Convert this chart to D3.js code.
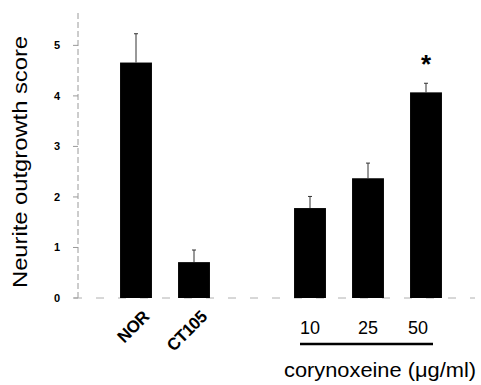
<!DOCTYPE html>
<html>
<head>
<meta charset="utf-8">
<script src="https://cdn.jsdelivr.net/npm/d3@7"></script>
<style>
  body { margin: 0; background: #fff; }
  svg { display: block; font-family: Arial, "Liberation Sans", sans-serif; }
  .axis-line { stroke: #9a9a9a; stroke-width: 1; stroke-dasharray: 6,3; }
  .bar { fill: #000; }
  .err { stroke: #333; stroke-width: 1; }
</style>
</head>
<body>
<div id="chart"></div>
<script>
const categories = ['NOR', 'CT105', 'gap', '10', '25', '50']
const rotatedLabels = ['NOR', 'CT105']
const doseLabels = ['10', '25', '50']
const means = [4.66, 0.71, null, 1.78, 2.37, 4.07]
const errors = [0.57, 0.24, null, 0.23, 0.30, 0.18]
const significant = ['50']
const yTicks = [0, 1, 2, 3, 4, 5]

const width = 481
const height = 385

const svg = d3.select('#chart')
  .append('svg')
  .attr('width', width)
  .attr('height', height)

const x = d3.scaleBand()
  .domain(categories)
  .range([107, 455])
  .paddingInner(0.45)
  .paddingOuter(0.225)

const y = d3.scaleLinear()
  .domain([0, 5.7])
  .range([298, 10])

const data = categories.map((c, i) => ({ cat: c, mean: means[i], err: errors[i] }))
  .filter(d => d.mean != null)

// y axis (faint, dashed like the scan)
svg.append('line')
  .attr('class', 'axis-line')
  .attr('x1', 78).attr('x2', 78)
  .attr('y1', y(0)).attr('y2', y(5.7))

svg.append('line')
  .attr('class', 'axis-line')
  .attr('x1', 74).attr('x2', 475)
  .attr('y1', y(0)).attr('y2', y(0))
  .style('stroke', '#b0b0b0')
  .style('stroke-dasharray', '8,14')

const tickG = svg.append('g')
tickG.selectAll('line')
  .data(yTicks)
  .enter().append('line')
    .attr('x1', 73).attr('x2', 78)
    .attr('y1', d => y(d)).attr('y2', d => y(d))
    .attr('stroke', '#999')
tickG.selectAll('text')
  .data(yTicks)
  .enter().append('text')
    .attr('x', 57)
    .attr('y', d => y(d))
    .attr('dy', '0.35em')
    .attr('text-anchor', 'middle')
    .attr('font-size', 11)
    .attr('font-weight', 'bold')
    .text(d => d)

// y label
svg.append('text')
  .attr('transform', `translate(27,${162}) rotate(-90)`)
  .attr('text-anchor', 'middle')
  .attr('font-size', 21)
  .attr('textLength', 252)
  .attr('lengthAdjust', 'spacingAndGlyphs')
  .text('Neurite outgrowth score')

// bars
svg.append('g').selectAll('rect')
  .data(data)
  .enter().append('rect')
    .attr('class', 'bar')
    .attr('x', d => x(d.cat))
    .attr('width', x.bandwidth())
    .attr('y', d => y(d.mean))
    .attr('height', d => y(0) - y(d.mean))

// error bars
const errG = svg.append('g')
errG.selectAll('line.v')
  .data(data)
  .enter().append('line')
    .attr('class', 'err v')
    .attr('x1', d => x(d.cat) + x.bandwidth() / 2)
    .attr('x2', d => x(d.cat) + x.bandwidth() / 2)
    .attr('y1', d => y(d.mean))
    .attr('y2', d => y(d.mean + d.err))
errG.selectAll('line.cap')
  .data(data)
  .enter().append('line')
    .attr('class', 'err cap')
    .attr('x1', d => x(d.cat) + x.bandwidth() / 2 - 2)
    .attr('x2', d => x(d.cat) + x.bandwidth() / 2 + 2)
    .attr('y1', d => y(d.mean + d.err))
    .attr('y2', d => y(d.mean + d.err))

// significance star
svg.append('g').selectAll('text')
  .data(data.filter(d => significant.includes(d.cat)))
  .enter().append('text')
    .attr('x', d => x(d.cat) + x.bandwidth() / 2)
    .attr('y', d => y(d.mean + d.err) - 10)
    .attr('text-anchor', 'middle')
    .attr('font-size', 26)
    .attr('font-weight', 'bold')
    .text('*')

// rotated category labels
svg.append('g').selectAll('text')
  .data(rotatedLabels)
  .enter().append('text')
    .attr('transform', d => `translate(${x(d) + x.bandwidth() / 2 + 14},${318}) rotate(-45)`)
    .attr('text-anchor', 'end')
    .attr('font-size', 17)
    .attr('font-weight', 'bold')
    .attr('letter-spacing', -0.5)
    .text(d => d)

// dose labels
svg.append('g').selectAll('text')
  .data(doseLabels)
  .enter().append('text')
    .attr('x', d => x(d) + x.bandwidth() / 2 - (d === '50' ? 8 : 0))
    .attr('y', 334)
    .attr('text-anchor', 'middle')
    .attr('font-size', 18)
    .text(d => d)

svg.append('line')
  .attr('x1', 300).attr('x2', 433)
  .attr('y1', 344).attr('y2', 344)
  .attr('stroke', '#000')
  .attr('stroke-width', 2.5)

svg.append('text')
  .attr('x', 380)
  .attr('y', 377)
  .attr('text-anchor', 'middle')
  .attr('font-size', 20)
  .attr('textLength', 192)
  .attr('lengthAdjust', 'spacingAndGlyphs')
  .text('corynoxeine (\u03bcg/ml)')
</script>
</body>
</html>
